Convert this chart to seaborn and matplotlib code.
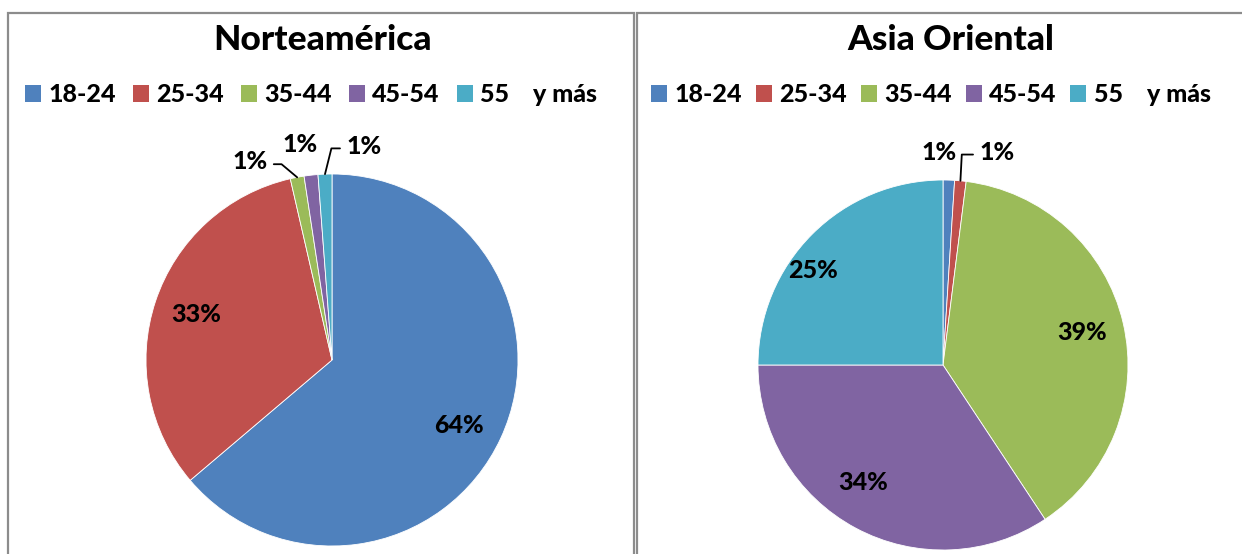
import matplotlib
matplotlib.use("Agg")
import numpy as np
import matplotlib.pyplot as plt
import seaborn as sns
from matplotlib.patches import Patch, Rectangle

# data
age_groups = ["18-24", "25-34", "35-44", "45-54", "55    y más"]
norte_values = [63.8, 32.6, 1.2, 1.2, 1.2]
asia_values = [1.0, 1.0, 38.7, 34.3, 25.0]
titles = ["Norteamérica", "Asia Oriental"]

colors = sns.color_palette(["#4F81BD", "#C0504D", "#9BBB59", "#8064A2", "#4BACC6"])

sns.set_theme(style="white")
plt.rcParams["font.family"] = ["Lato", "DejaVu Sans"]
plt.rcParams["font.weight"] = "bold"
plt.rcParams["text.color"] = "black"

W, H = 1242, 554
fig = plt.figure(figsize=(W / 100, H / 100), dpi=100)
BOLD = 900
LBL = 18


def px_axes(cx, cy, r):
    # axes box in pixel terms (y measured from the top)
    return fig.add_axes([(cx - r) / W, (H - cy - r) / H, 2 * r / W, 2 * r / H])


def mid_angles(values):
    v = np.array(values, dtype=float)
    frac = v / v.sum() * 360
    start = 90 - np.concatenate([[0], np.cumsum(frac)[:-1]])
    return start - frac / 2


def draw_pie(ax, values, big_pos, small_pos):
    ax.pie(values, colors=colors, startangle=90, counterclock=False,
           wedgeprops=dict(edgecolor="white", linewidth=0.6))
    ax.set_xlim(-1, 1)
    ax.set_ylim(-1, 1)
    mids = np.deg2rad(mid_angles(values))
    for i, v in enumerate(values):
        lab = f"{round(v)}%"
        if i in small_pos:
            tx, ty, leader = small_pos[i]
            if leader is None:
                ax.text(tx, ty, lab, ha="center", va="center", fontsize=LBL,
                        fontweight=BOLD, color="black")
            else:
                angB, rel = leader
                ax.annotate(lab, xy=(np.cos(mids[i]), np.sin(mids[i])),
                            xytext=(tx, ty), ha="center", va="center",
                            fontsize=LBL, fontweight=BOLD, color="black",
                            arrowprops=dict(arrowstyle="-", lw=1.3, color="black",
                                            shrinkA=2, shrinkB=0, relpos=rel,
                                            connectionstyle=f"angle,angleA=0,angleB={angB},rad=0"))
        else:
            r, da = big_pos.get(i, (0.77, 0))
            a = mids[i] + np.deg2rad(da)
            ax.text(r * np.cos(a), r * np.sin(a), lab, ha="center", va="center",
                    fontsize=LBL, fontweight=BOLD, color="black")


ax1 = px_axes(332, 360, 186)
draw_pie(ax1, norte_values,
         {0: (0.77, -2.5)},
         {2: (-0.44, 1.065, (140, (1, 0.4))),
          3: (-0.17, 1.16, None),
          4: (0.17, 1.15, (76, (0, 0.4)))})

ax2 = px_axes(943, 365, 185)
draw_pie(ax2, asia_values,
         {3: (0.77, -6), 4: (0.87, 9)},
         {0: (-0.02, 1.15, None),
          1: (0.29, 1.15, (87, (0, 0.4)))})

# panel borders
for x0, x1 in [(8, 634), (637, 1300)]:
    fig.add_artist(Rectangle((x0 / W, -0.1), (x1 - x0) / W, (H - 13) / H + 0.1,
                             transform=fig.transFigure, fill=False,
                             edgecolor="#8c8c8c", lw=1.6, clip_on=False))

# titles and legends
handles = [Patch(facecolor=c, edgecolor="none") for c in colors]
for cx, title, lcx, colsp in [(322, titles[0], 311, 0.68), (951, titles[1], 931, 0.55)]:
    fig.text(cx / W, 1 - 40 / H, title, ha="center", va="center",
             fontsize=25.5, fontweight=BOLD, color="black")
    fig.legend(handles, age_groups, loc="center", bbox_to_anchor=(lcx / W, 1 - 95 / H),
               ncol=5, frameon=False, prop=dict(size=18, weight=BOLD),
               handlelength=0.64, handleheight=0.64, handletextpad=0.3,
               columnspacing=colsp, borderaxespad=0)

fig.savefig("out.png", dpi=100)
